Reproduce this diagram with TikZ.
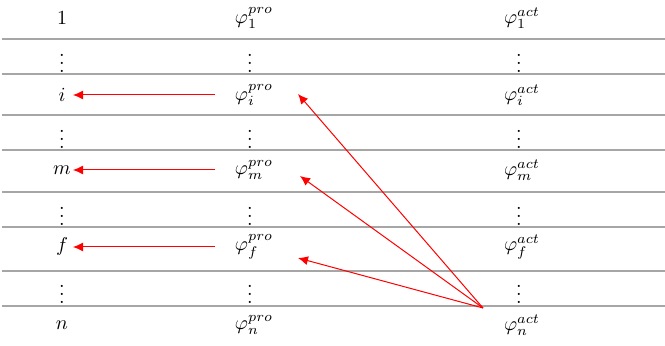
\documentclass[tikz,border=0pt]{standalone}
\usepackage{amsmath,amssymb}
\usepackage{xcolor}
\usepackage{tikz}
\usetikzlibrary{arrows.meta}

\tikzset{
  rowline/.style={gray!70, line width=0.7pt},
  maparrow/.style={red, line width=0.5pt, -{Latex[length=5pt,width=4.5pt]}},
  cell/.style={inner sep=1pt}
}

\begin{document}
\begin{tikzpicture}[x=0.5pt, y=-0.5pt]
    \useasboundingbox (0,0) rectangle (665,346);

    % Row separators
    \draw[rowline] (2,39) -- (665,39);
    \draw[rowline] (2,74) -- (665,74);
    \draw[rowline] (2,115) -- (665,115);
    \draw[rowline] (2,150) -- (665,150);
    \draw[rowline] (2,192) -- (665,192);
    \draw[rowline] (2,227) -- (665,227);
    \draw[rowline] (2,271) -- (665,271);
    \draw[rowline] (2,306) -- (665,306);

    % Index column
    \node[cell] (idx-1) at (62,18) {$1$};
    \node[cell] (idx-d1) at (62,57) {$\vdots$};
    \node[cell] (idx-i) at (62,95) {$i$};
    \node[cell] (idx-d2) at (62,133) {$\vdots$};
    \node[cell] (idx-m) at (62,170) {$m$};
    \node[cell] (idx-d3) at (62,210) {$\vdots$};
    \node[cell] (idx-f) at (62,247) {$f$};
    \node[cell] (idx-d4) at (62,288) {$\vdots$};
    \node[cell] (idx-n) at (62,325) {$n$};

    % Projected column
    \node[cell] (pro-1) at (254,18) {$\varphi_1^{pro}$};
    \node[cell] (pro-d1) at (250,57) {$\vdots$};
    \node[cell] (pro-i) at (254,95) {$\varphi_i^{pro}$};
    \node[cell] (pro-d2) at (250,133) {$\vdots$};
    \node[cell] (pro-m) at (254,170) {$\varphi_m^{pro}$};
    \node[cell] (pro-d3) at (250,210) {$\vdots$};
    \node[cell] (pro-f) at (254,247) {$\varphi_f^{pro}$};
    \node[cell] (pro-d4) at (250,288) {$\vdots$};
    \node[cell] (pro-n) at (254,325) {$\varphi_n^{pro}$};

    % Actual column
    \node[cell] (act-1) at (522,18) {$\varphi_1^{act}$};
    \node[cell] (act-d1) at (519,57) {$\vdots$};
    \node[cell] (act-i) at (522,95) {$\varphi_i^{act}$};
    \node[cell] (act-d2) at (519,133) {$\vdots$};
    \node[cell] (act-m) at (522,170) {$\varphi_m^{act}$};
    \node[cell] (act-d3) at (519,210) {$\vdots$};
    \node[cell] (act-f) at (522,247) {$\varphi_f^{act}$};
    \node[cell] (act-d4) at (519,288) {$\vdots$};
    \node[cell] (act-n) at (522,325) {$\varphi_n^{act}$};

    % Mapping arrows
    \draw[maparrow] ([xshift=-19.5pt]pro-i.center) -- ([xshift=5.5pt]idx-i.center);
    \draw[maparrow] ([xshift=-19.5pt]pro-m.center) -- ([xshift=5.5pt]idx-m.center);
    \draw[maparrow] ([xshift=-19.5pt]pro-f.center) -- ([xshift=5.5pt]idx-f.center);

    \coordinate (src) at (483,308);
    \draw[maparrow] (src) -- ([xshift=22pt,yshift=0.5pt]pro-i.center);
    \draw[maparrow] (src) -- ([xshift=23pt,yshift=-3pt]pro-m.center);
    \draw[maparrow] (src) -- ([xshift=22pt,yshift=-5.5pt]pro-f.center);
\end{tikzpicture}
\end{document}
